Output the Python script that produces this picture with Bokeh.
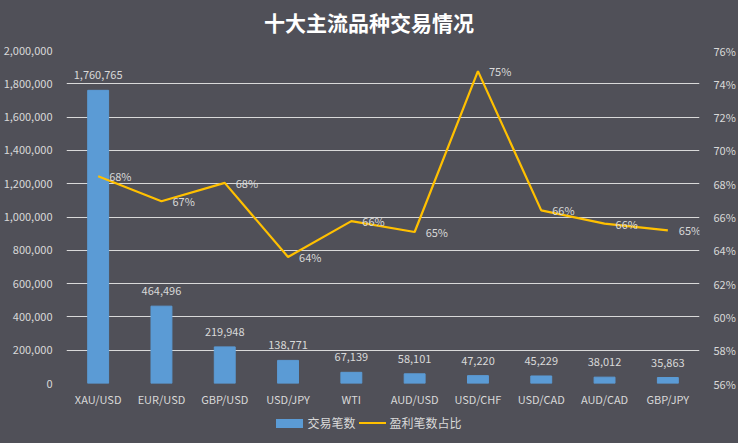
from bokeh.plotting import figure
from bokeh.models import (FactorRange, Range1d, LinearAxis, NumeralTickFormatter,
                          ColumnDataSource, FixedTicker, LabelSet, Div)
from bokeh.layouts import column
from bokeh.embed import file_html
from bokeh.resources import INLINE
from bokeh.core.properties import value

title_text = "十大主流品种交易情况"
categories = ["XAU/USD", "EUR/USD", "GBP/USD", "USD/JPY", "WTI",
              "AUD/USD", "USD/CHF", "USD/CAD", "AUD/CAD", "GBP/JPY"]
trades = [1760765, 464496, 219948, 138771, 67139, 58101, 47220, 45229, 38012, 35863]
win_pct = [68.45, 66.95, 68.05, 63.6, 65.75, 65.1, 74.76, 66.4, 65.6, 65.2]
series_names = ["交易笔数", "盈利笔数占比"]

BG = "#505058"
TXT = "#D9D9D9"
FONT = "Noto Sans CJK SC"
BAR_C = "#5B9BD5"
LINE_C = "#FFC000"

src = ColumnDataSource(dict(
    cat=categories,
    trades=trades,
    trade_lbl=[f"{v:,}" for v in trades],
    pct=[v / 100 for v in win_pct],
    pct_lbl=[f"{round(v)}%" for v in win_pct],
))

# title strip
title_div = Div(
    text=(f'<div style="width:738px;height:40px;line-height:44px;text-align:center;'
          f'color:#FFFFFF;font-family:\'{FONT}\';font-size:21px;font-weight:bold;">'
          f'{title_text}</div>'),
    width=738, height=40, margin=0,
    styles={"background-color": BG})

p = figure(width=738, height=370, output_backend="svg", toolbar_location=None,
           x_range=FactorRange(*categories, range_padding=0),
           y_range=Range1d(0, 2000000),
           background_fill_color=BG, border_fill_color=BG,
           min_border_left=62, min_border_right=34, min_border_top=10, min_border_bottom=27,
           outline_line_color=None, styles={"background-color": BG})

p.extra_y_ranges = {"pct": Range1d(0.56, 0.76)}

bars = p.vbar(x="cat", top="trades", width=0.33, source=src, color=BAR_C)
line = p.line(x="cat", y="pct", source=src, y_range_name="pct",
              line_color=LINE_C, line_width=2.2)

p.add_layout(LabelSet(x="cat", y="trades", text="trade_lbl", source=src,
                      text_align="center", text_baseline="bottom", y_offset=11,
                      text_color=TXT, text_font=value(FONT), text_font_size="11px"))
p.add_layout(LabelSet(x="cat", y="pct", text="pct_lbl", source=src, y_range_name="pct",
                      text_align="left", text_baseline="middle", x_offset=11,
                      text_color=TXT, text_font=value(FONT), text_font_size="11px"))

ya = p.yaxis[0]
ya.ticker = FixedTicker(ticks=list(range(0, 2000001, 200000)))
ya.formatter = NumeralTickFormatter(format="0,0")

ra = LinearAxis(y_range_name="pct",
                ticker=FixedTicker(ticks=[0.56 + 0.02 * i for i in range(11)]),
                formatter=NumeralTickFormatter(format="0%"))
p.add_layout(ra, "right")

for ax in [p.xaxis[0], ya, ra]:
    ax.axis_line_color = None
    ax.major_tick_line_color = None
    ax.minor_tick_line_color = None
    ax.major_label_text_color = TXT
    ax.major_label_text_font = FONT
    ax.major_label_text_font_size = "11px"
ya.major_label_standoff = 8
ra.major_label_standoff = 8
p.xaxis[0].major_label_standoff = 1

p.xgrid.grid_line_color = None
p.ygrid.grid_line_color = "#D9D9D9"
p.ygrid.grid_line_width = 1
p.ygrid.ticker = ya.ticker

# legend strip
legend_html = (
    f'<div style="width:738px;height:33px;display:flex;justify-content:center;'
    f'align-items:center;padding-bottom:7px;box-sizing:border-box;color:{TXT};'
    f'font-family:\'{FONT}\';font-size:12px;">'
    f'<span style="display:inline-block;width:27px;height:9px;background:{BAR_C};margin-right:4px;"></span>'
    f'<span style="margin-right:3px;">{series_names[0]}</span>'
    f'<span style="display:inline-block;width:27px;height:2px;background:{LINE_C};margin-right:4px;"></span>'
    f'<span>{series_names[1]}</span></div>'
)
legend_div = Div(text=legend_html, width=738, height=33, margin=0,
                 styles={"background-color": BG})

layout = column(title_div, p, legend_div, spacing=0,
                styles={"background-color": BG})
open("out.html", "w").write(file_html(layout, INLINE))
